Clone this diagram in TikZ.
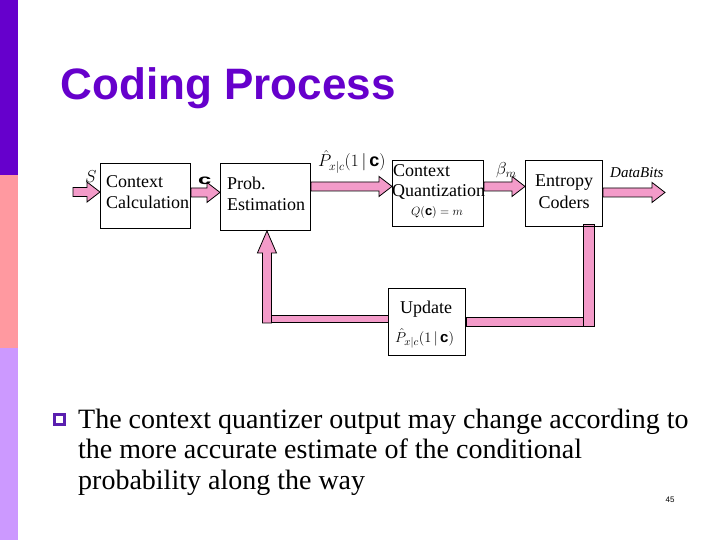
\documentclass[tikz,border=0pt]{standalone}
\usepackage{graphicx}
\usepackage{fontspec}
\setmainfont{Liberation Serif}
\setsansfont{Liberation Sans}
\usetikzlibrary{calc}
\definecolor{barpurple}{HTML}{6600CC}
\definecolor{barpink}{HTML}{FF99A0}
\definecolor{barlav}{HTML}{CC99FF}
\definecolor{arrowpink}{HTML}{F39BC9}
\definecolor{titlepurple}{HTML}{6600CC}
\definecolor{bulletpurple}{HTML}{5A1FAF}
\newcommand\fatarrow[2]{\filldraw[fat] let \p1=#1, \p2=#2 in
  (\x1,\y1+4.5pt) -- (\x2-13pt,\y1+4.5pt) -- (\x2-13pt,\y1+10pt) -- (\x2,\y1)
  -- (\x2-13pt,\y1-10pt) -- (\x2-13pt,\y1-4.5pt) -- (\x1,\y1-4.5pt) -- cycle;}
\newcommand\bc{\textsf{\textbf{c}}}
\begin{document}
\begin{tikzpicture}[x=1pt,y=-1pt,
  fat/.style={fill=arrowpink, draw=black, line width=0.8pt, line join=miter},
  box/.style={draw=black, fill=white, line width=0.9pt, inner sep=0pt, anchor=north west},
  bt/.style={font=\fontsize{18}{21}\selectfont, inner sep=0pt, anchor=base west},
  lbl/.style={inner sep=0pt, anchor=base west},
  bul/.style={font=\fontsize{28}{30}\selectfont, inner sep=0pt, anchor=base west}]
\useasboundingbox (0,0) rectangle (720,540);
\fill[white] (0,0) rectangle (720,540);
% side bars
\fill[barpurple] (0,0) rectangle (18,175);
\fill[barpink] (0,175) rectangle (18,348);
\fill[barlav] (0,348) rectangle (18,540);
% title
\node[lbl, font=\fontsize{44}{48}\selectfont\sffamily\bfseries, text=titlepurple] (title) at (60.5,99.5) {Coding Process};
% boxes
\node[box, minimum width=90pt, minimum height=65pt] (ctx) at (100,163) {};
\node[box, minimum width=90pt, minimum height=67pt] (prob) at (220,163) {};
\node[box, minimum width=91pt, minimum height=66pt] (quant) at (392,160) {};
\node[box, minimum width=77pt, minimum height=66pt] (ent) at (525,160) {};
\node[box, minimum width=77pt, minimum height=67pt] (upd) at (388,288) {};
% coordinates for free ends
\coordinate (sin) at (73,192);
\coordinate (dout) at (665,192);
% forward arrows
\fatarrow{(sin)}{(ctx.west)}
\fatarrow{($(ctx.east)+(0,-3.5)$)}{(prob.west)}
\fatarrow{($(prob.east)+(0,-10.5)$)}{(quant.west)}
\fatarrow{($(quant.east)+(0,-7)$)}{(ent.west)}
\fatarrow{($(ent.east)+(0,-1)$)}{(dout)}
% feedback path
\filldraw[fat] ($(ent.south east)+(-20,-2)$) rectangle ($(ent.south east)+(-9,99)$);
\filldraw[fat] ($(upd.east)+(0,-4.5)$) rectangle ($(ent.south east)+(-20,99)$);
\filldraw[fat] ($(prob.south)+(-3,92)$) -- ($(prob.south)+(-3,22)$) -- ($(prob.south)+(-8,22)$)
  -- ($(prob.south)+(1.5,0)$) -- ($(prob.south)+(11,22)$) -- ($(prob.south)+(6,22)$)
  -- ($(prob.south)+(6,92)$) -- cycle;
\filldraw[fat] ($(prob.south)+(6,84)$) rectangle ($(upd.west)+(0,0.5)$);
% redraw box outlines on top
\draw[line width=0.9pt] (ctx.north west) rectangle (ctx.south east);
\draw[line width=0.9pt] (prob.north west) rectangle (prob.south east);
\draw[line width=0.9pt] (quant.north west) rectangle (quant.south east);
\draw[line width=0.9pt] (ent.north west) rectangle (ent.south east);
\draw[line width=0.9pt] (upd.north west) rectangle (upd.south east);
% box texts
\node[bt] (ctx1) at (106,188) {Context};
\node[bt] (ctx2) at (106,208.5) {Calculation};
\node[bt] (prob1) at (227,189.5) {Prob.};
\node[bt] (prob2) at (227,210.5) {Estimation};
\node[bt] (q1) at (393,176.5) {Context};
\node[bt] (q2) at (392,196.5) {Quantization};
\node[lbl, font=\fontsize{13}{15}\selectfont, anchor=base] (q3) at (437,215) {$Q(\bc)=m$};
\node[bt, anchor=base] (e1) at (564,186.5) {Entropy};
\node[bt, anchor=base] (e2) at (564,208) {Coders};
\node[bt] (u1) at (400,313.5) {Update};
\node[lbl, font=\fontsize{15}{17}\selectfont] (u2) at (395,342) {$\hat{P}_{x|c}(1\,|\,\bc)$};
% arrow labels
\node[lbl, font=\fontsize{18}{20}\selectfont] (ls) at (85,183) {$S$};
\node[lbl, font=\fontsize{14}{16}\selectfont] (lc) at (198,185) {\scalebox{1.7}[1]{\bc}};
\node[lbl, font=\fontsize{18}{20}\selectfont] (lp) at (318,167) {$\hat{P}_{x|c}(1\,|\,\bc)$};
\node[lbl, font=\fontsize{18}{20}\selectfont] (lb) at (496,175) {$\beta_m$};
\node[lbl, font=\fontsize{15}{17}\selectfont\itshape] (ld) at (610,178) {DataBits};
% bullet
\draw[bulletpurple, line width=2.6pt] (54.5,414.5) rectangle (64.5,424.5);
\node[bul] (b1) at (78,428) {The context quantizer output may change according to};
\node[bul] (b2) at (78,458.5) {the more accurate estimate of the conditional};
\node[bul] (b3) at (78,489) {probability along the way};
\node[font=\fontsize{8}{9}\selectfont\sffamily, inner sep=0pt] (pg) at (670,500) {45};
\end{tikzpicture}
\end{document}
